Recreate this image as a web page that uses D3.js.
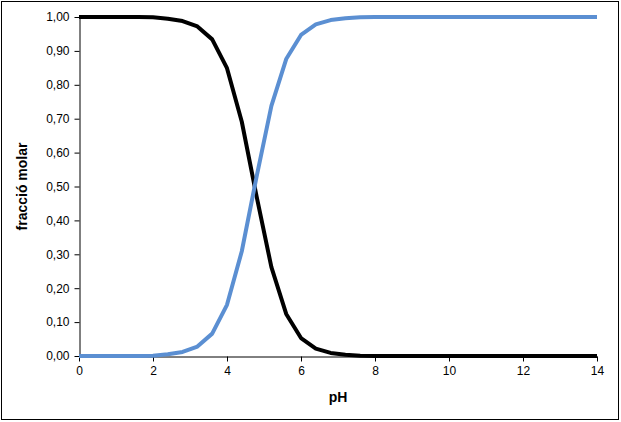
<!DOCTYPE html>
<html>
<head>
<meta charset="utf-8">
<script src="https://cdn.jsdelivr.net/npm/d3@7"></script>
<style>
	body { margin: 0; background: #fff; }
	text { font-family: "Liberation Sans", Arial, sans-serif; }
</style>
</head>
<body>
<div id="chart"></div>
<script>
// data (pH steps of 0.4)
var phValues = [0, 0.4, 0.8, 1.2, 1.6, 2.0, 2.4, 2.8, 3.2, 3.6, 4.0, 4.4, 4.8, 5.2, 5.6, 6.0, 6.4, 6.8,
	7.2, 7.6, 8.0, 8.4, 8.8, 9.2, 9.6, 10.0, 10.4, 10.8, 11.2, 11.6, 12.0, 12.4, 12.8, 13.2, 13.6, 14.0];
var acidFraction = [1.00, 1.00, 1.00, 1.00, 1.00, 0.999, 0.995, 0.988, 0.972, 0.934, 0.849, 0.691, 0.471, 0.262, 0.124, 0.053, 0.022, 0.009,
	0.004, 0.001, 0.00, 0.00, 0.00, 0.00, 0.00, 0.00, 0.00, 0.00, 0.00, 0.00, 0.00, 0.00, 0.00, 0.00, 0.00, 0.00];
var baseFraction = [0.00, 0.00, 0.00, 0.00, 0.00, 0.001, 0.005, 0.012, 0.028, 0.066, 0.151, 0.309, 0.529, 0.738, 0.876, 0.947, 0.978, 0.991,
	0.996, 0.999, 1.00, 1.00, 1.00, 1.00, 1.00, 1.00, 1.00, 1.00, 1.00, 1.00, 1.00, 1.00, 1.00, 1.00, 1.00, 1.00];
var xTicks = [0, 2, 4, 6, 8, 10, 12, 14];
var yTicks = [0, 0.1, 0.2, 0.3, 0.4, 0.5, 0.6, 0.7, 0.8, 0.9, 1.0];

var svgWidth = 621;
var svgHeight = 422;
var margin = { top: 17, right: 24, bottom: 66, left: 79 };
var width = 597 - margin.left;
var height = 356 - margin.top;

var svg = d3.select("#chart")
	.append("svg")
	.attr("width", svgWidth)
	.attr("height", svgHeight);

// outer frame
svg.append("rect")
	.attr("x", 1.5)
	.attr("y", 1.5)
	.attr("width", 617)
	.attr("height", 418)
	.attr("fill", "#fff")
	.attr("stroke", "#000")
	.attr("stroke-width", 1);

var chartGroup = svg.append("g")
	.attr("transform", `translate(${margin.left}, ${margin.top})`);

var xScale = d3.scaleLinear().domain([0, 14]).range([0, width]);
var yScale = d3.scaleLinear().domain([0, 1]).range([height, 0]);

var commaFmt = d => d3.format(".2f")(d).replace(".", ",");

// axes
var xAxis = chartGroup.append("g")
	.attr("transform", `translate(0, ${height + 0.5})`)
	.call(d3.axisBottom(xScale).tickValues(xTicks).tickSize(5).tickSizeOuter(0));

var yAxis = chartGroup.append("g")
	.attr("transform", "translate(0.5, 0)")
	.call(d3.axisLeft(yScale).tickValues(yTicks).tickFormat(commaFmt).tickSize(5).tickSizeOuter(0));

[xAxis, yAxis].forEach(function (ax) {
	ax.selectAll("path, line").attr("stroke", "#000");
	ax.selectAll("text")
		.attr("fill", "#000")
		.style("font-size", "12px")
		.style("font-family", "'Liberation Sans', Arial, sans-serif");
});
xAxis.selectAll("text").attr("dy", "0.95em").attr("y", 7);
yAxis.selectAll("text").attr("x", -10);

// lines
var lineGen = function (vals) {
	return d3.line()
		.x((d, i) => xScale(phValues[i]))
		.y(d => yScale(d))(vals);
};

chartGroup.append("path")
	.attr("d", lineGen(acidFraction))
	.attr("fill", "none")
	.attr("stroke", "#000")
	.attr("stroke-width", 4)
	.attr("stroke-linejoin", "round");

chartGroup.append("path")
	.attr("d", lineGen(baseFraction))
	.attr("fill", "none")
	.attr("stroke", "#5B8FD2")
	.attr("stroke-width", 4)
	.attr("stroke-linejoin", "round");

// axis titles
svg.append("text")
	.attr("x", margin.left + width / 2)
	.attr("y", 402)
	.attr("text-anchor", "middle")
	.style("font-size", "14px")
	.style("font-weight", "bold")
	.text("pH");

svg.append("text")
	.attr("transform", `translate(27, ${margin.top + height / 2}) rotate(-90)`)
	.attr("text-anchor", "middle")
	.style("font-size", "14px")
	.style("font-weight", "bold")
	.text("fracció molar");
</script>
</body>
</html>
